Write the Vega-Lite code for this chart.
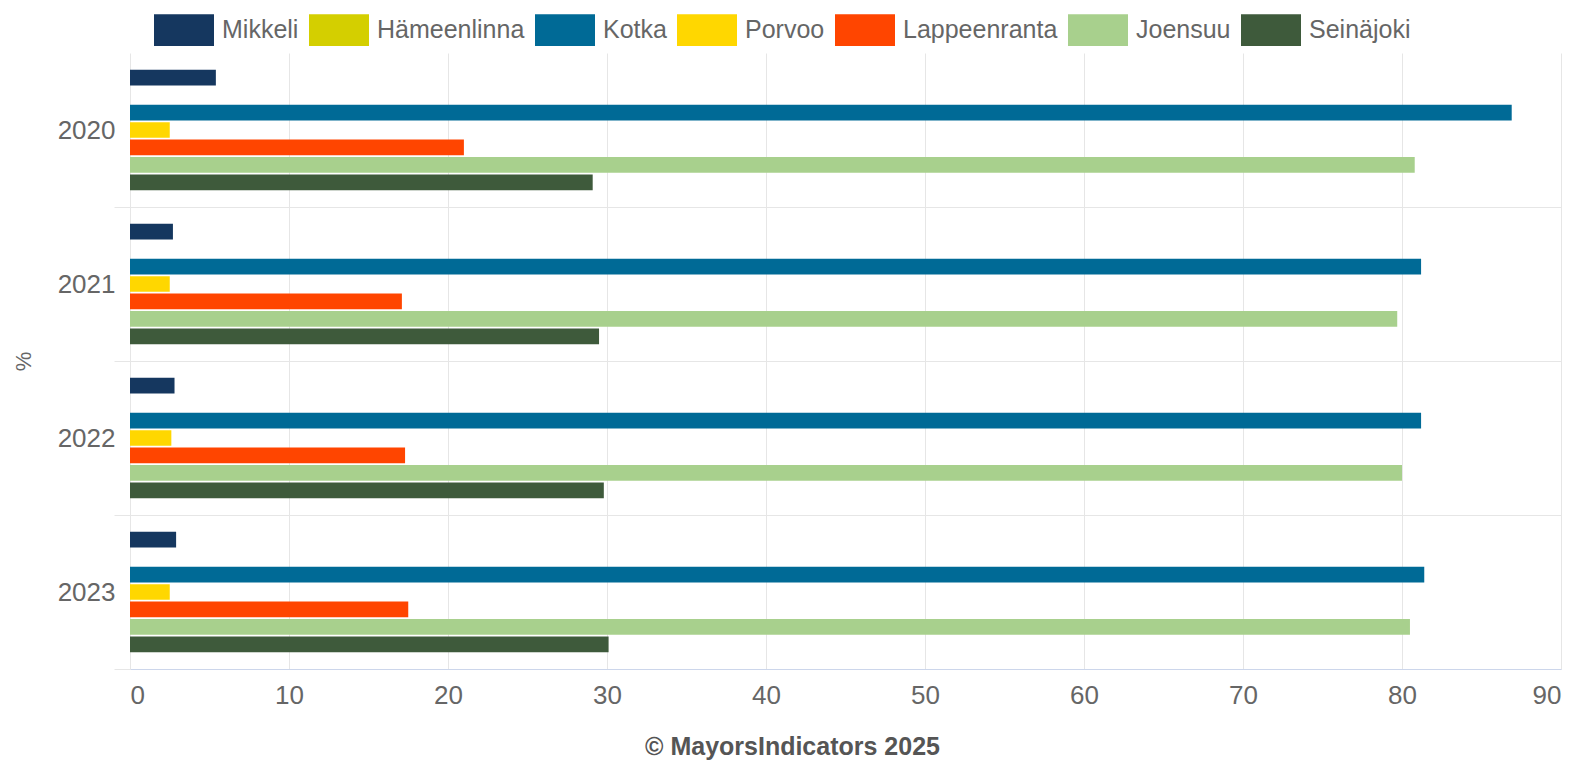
{
  "$schema": "https://vega.github.io/schema/vega-lite/v6.json",
  "width": 1431,
  "height": 616,
  "autosize": {"type": "none"},
  "padding": {"left": 130, "top": 53, "right": 24, "bottom": 91},
  "background": "white",
  "config": {"view": {"stroke": null}, "font": "Liberation Sans"},
  "data": {"values": [
    {"year": "2020", "city": "Mikkeli", "value": 5.4},
    {"year": "2020", "city": "Kotka", "value": 86.9},
    {"year": "2020", "city": "Porvoo", "value": 2.5},
    {"year": "2020", "city": "Lappeenranta", "value": 21.0},
    {"year": "2020", "city": "Joensuu", "value": 80.8},
    {"year": "2020", "city": "Seinäjoki", "value": 29.1},
    {"year": "2021", "city": "Mikkeli", "value": 2.7},
    {"year": "2021", "city": "Kotka", "value": 81.2},
    {"year": "2021", "city": "Porvoo", "value": 2.5},
    {"year": "2021", "city": "Lappeenranta", "value": 17.1},
    {"year": "2021", "city": "Joensuu", "value": 79.7},
    {"year": "2021", "city": "Seinäjoki", "value": 29.5},
    {"year": "2022", "city": "Mikkeli", "value": 2.8},
    {"year": "2022", "city": "Kotka", "value": 81.2},
    {"year": "2022", "city": "Porvoo", "value": 2.6},
    {"year": "2022", "city": "Lappeenranta", "value": 17.3},
    {"year": "2022", "city": "Joensuu", "value": 80.0},
    {"year": "2022", "city": "Seinäjoki", "value": 29.8},
    {"year": "2023", "city": "Mikkeli", "value": 2.9},
    {"year": "2023", "city": "Kotka", "value": 81.4},
    {"year": "2023", "city": "Porvoo", "value": 2.5},
    {"year": "2023", "city": "Lappeenranta", "value": 17.5},
    {"year": "2023", "city": "Joensuu", "value": 80.5},
    {"year": "2023", "city": "Seinäjoki", "value": 30.1}
  ]},
  "mark": {"type": "bar"},
  "encoding": {
    "y": {
      "field": "year", "type": "nominal",
      "scale": {"paddingInner": 0, "paddingOuter": 0},
      "axis": {
        "title": "%", "titleFontSize": 22, "titleFontWeight": "normal", "titleColor": "#666666", "titlePadding": 22,
        "tickBand": "extent", "grid": true,
        "gridColor": {"condition": {"test": "datum.index === -1 || !!datum.extra", "value": "transparent"}, "value": "#e6e6e6"},
        "tickColor": {"condition": {"test": "datum.index === -1 || !!datum.extra", "value": "transparent"}, "value": "#e6e6e6"},
        "tickSize": 16,
        "domain": false, "labelFontSize": 26, "labelColor": "#666666", "labelPadding": -1
      }
    },
    "yOffset": {
      "field": "city", "type": "nominal",
      "scale": {"domain": ["Mikkeli", "Hämeenlinna", "Kotka", "Porvoo", "Lappeenranta", "Joensuu", "Seinäjoki"], "paddingInner": 0.1, "paddingOuter": 0.96}
    },
    "x": {
      "field": "value", "type": "quantitative",
      "scale": {"domain": [0, 90], "nice": false},
      "axis": {
        "values": [0, 10, 20, 30, 40, 50, 60, 70, 80, 90],
        "title": "© MayorsIndicators 2025", "titleFontSize": 25, "titleFontWeight": "bold", "titleColor": "#555555",
        "titleX": 662, "titleY": 77, "titleBaseline": "middle", "titleAlign": "center",
        "grid": true, "gridColor": "#e6e6e6", "ticks": false, "domainColor": "#ccd6eb",
        "labelFontSize": 26, "labelColor": "#666666", "labelPadding": 13
      }
    },
    "color": {
      "field": "city", "type": "nominal",
      "scale": {
        "domain": ["Mikkeli", "Hämeenlinna", "Kotka", "Porvoo", "Lappeenranta", "Joensuu", "Seinäjoki"],
        "range": ["#15375f", "#d4cf00", "#006a96", "#ffd700", "#ff4500", "#a8d08d", "#3e5a3b"]
      },
      "legend": {
        "orient": "none", "legendX": 24, "legendY": -53, "direction": "horizontal", "columns": 7,
        "title": null, "symbolType": "M-1,-0.53H1V0.53H-1Z", "symbolSize": 3600, "symbolStrokeWidth": 0,
        "symbolOpacity": 1, "labelFontSize": 25, "labelColor": "#666666", "labelOffset": 8,
        "columnPadding": 10, "labelLimit": 400, "padding": 0
      }
    }
  }
}
